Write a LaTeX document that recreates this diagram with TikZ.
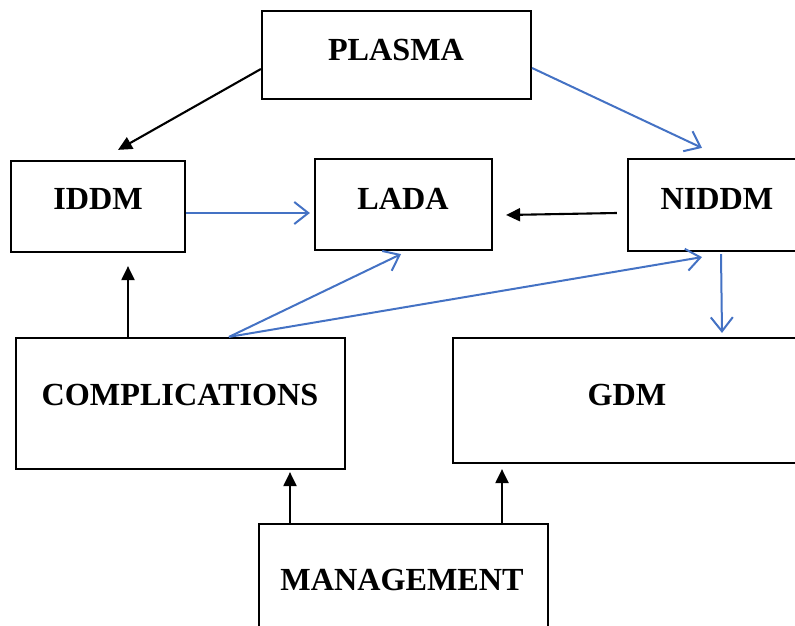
\documentclass[tikz,border=0pt]{standalone}
\usepackage{fontspec}
\setmainfont{Liberation Serif}
\usetikzlibrary{arrows.meta}
\definecolor{ablue}{RGB}{68,114,196}
\tikzset{
  box/.style={draw=black, line width=2.2pt, rectangle, inner sep=0pt},
  lbl/.style={font=\fontsize{32.2}{36}\selectfont\bfseries, inner sep=0pt},
  blk/.style={draw=black, line width=2.1pt, -{Triangle[length=14pt,width=13pt]}},
  blu/.style={draw=ablue, line width=2pt, -{Straight Barb[length=14pt,width=22pt,line width=2pt]}}
}
\begin{document}
\begin{tikzpicture}[x=1pt,y=-1pt]
\useasboundingbox (0,0) rectangle (795,626);
% boxes
\node[box, minimum width=269pt, minimum height=88pt] (plasma) at (396.5,55) {};
\node[box, minimum width=174pt, minimum height=91pt] (iddm) at (98,206.5) {};
\node[box, minimum width=177pt, minimum height=91pt] (lada) at (403.5,204.5) {};
\node[box, minimum width=184pt, minimum height=92pt] (niddm) at (720,205) {};
\node[box, minimum width=329pt, minimum height=131pt] (comp) at (180.5,403.5) {};
\node[box, minimum width=359pt, minimum height=125pt] (gdm) at (632.5,400.5) {};
\node[box, minimum width=289pt, minimum height=116pt] (mgmt) at (403.5,582) {};
% labels
\node[lbl] (tplasma) at (396,50) {PLASMA};
\node[lbl] (tiddm) at (98,199) {IDDM};
\node[lbl] (tlada) at (403,199) {LADA};
\node[lbl] (tniddm) at (717,199) {NIDDM};
\node[lbl] (tcomp) at (180,395) {COMPLICATIONS};
\node[lbl] (tgdm) at (627,395) {GDM};
\node[lbl] (tmgmt) at (402,580) {MANAGEMENT};
% connectors
\draw[blk] ([yshift=-14pt]plasma.west) -- ([xshift=20pt,yshift=10pt]iddm.north);
\draw[blu] ([yshift=-13pt]plasma.east) -- ([xshift=-18pt,yshift=10pt]niddm.north);
\draw[blu] ([yshift=-6.5pt]iddm.east) -- ([xshift=-4pt,yshift=-8.5pt]lada.west);
\draw[blk] ([xshift=-10pt,yshift=-8pt]niddm.west) -- ([xshift=13pt,yshift=-10.5pt]lada.east);
\draw[blu] ([xshift=1pt,yshift=-2pt]niddm.south) -- ([xshift=89.5pt,yshift=4pt]gdm.north);
\draw[blk] ([xshift=-52.5pt]comp.north) -- ([xshift=30pt,yshift=-13pt]iddm.south);
\draw[blu] ([xshift=48.5pt]comp.north) -- ([xshift=-2.5pt,yshift=-3pt]lada.south);
\draw[blu] ([xshift=48.5pt]comp.north) -- ([xshift=-18pt,yshift=-5pt]niddm.south);
\draw[blk] ([xshift=-113.5pt]mgmt.north) -- ([xshift=109.5pt,yshift=-2pt]comp.south);
\draw[blk] ([xshift=98.5pt]mgmt.north) -- ([xshift=-130.5pt,yshift=-5pt]gdm.south);
\end{tikzpicture}
\end{document}
